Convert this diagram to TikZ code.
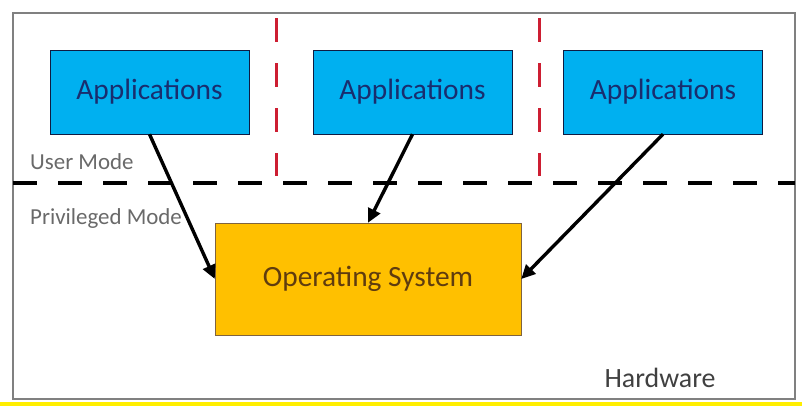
\documentclass[tikz,border=0pt]{standalone}
\usepackage{fontspec}
\setmainfont{Carlito}
\usetikzlibrary{positioning}
\usetikzlibrary{arrows.meta}
\definecolor{appblue}{RGB}{0,176,240}
\definecolor{apptext}{RGB}{25,45,110}
\definecolor{osorange}{RGB}{255,192,0}
\definecolor{ostext}{RGB}{95,60,15}
\definecolor{sepred}{RGB}{205,30,50}
\definecolor{stripe}{RGB}{255,238,0}
\definecolor{modegray}{RGB}{105,105,105}

\begin{document}
\begin{tikzpicture}[x=1bp, y=-1bp,
    app/.style={draw=apptext!60!black, fill=appblue, minimum width=199bp, minimum height=84bp,
        inner sep=0pt, text=apptext, font=\fontsize{29.5}{33}\selectfont},
    osbox/.style={draw=ostext!80, fill=osorange, minimum width=306bp, minimum height=112bp,
        inner sep=0pt, text=ostext, font=\fontsize{29.5}{33}\selectfont},
    modelabel/.style={anchor=west, inner sep=0pt, text=modegray, font=\fontsize{23}{26}\selectfont},
    call/.style={line width=3.4bp, -{Triangle[length=14bp, width=13bp]}}]
\useasboundingbox (0,0) rectangle (802,406);

% Hardware frame and the strip under it
\fill[stripe] (0,402) rectangle (802,406);
\draw[gray, line width=1.5bp] (13,13) rectangle (795,399);
\node[text=black!75, inner sep=0pt, font=\fontsize{28}{32}\selectfont] (hw) at (660,378) {Hardware};

% Separators between the applications
\foreach \xr in {276, 539} {
    \draw[sepred, line width=3bp, dash pattern=on 24bp off 21bp] (\xr,18) -- (\xr,176);
}

% User / privileged boundary
\coordinate (bl) at (13,183);
\coordinate (br) at (795,183);
\draw[black, line width=4bp, dash pattern=on 24bp off 21bp] (bl) -- (br);
\node[modelabel] (user) at (30,162) {User Mode};
\node[modelabel] (priv) at (30,219) {Privileged Mode};

% Applications and the kernel
\foreach \n/\xc in {1/149.5, 2/412.5, 3/663} {
    \node[app] (app\n) at (\xc,92) {Applications};
}
\node[osbox] (os) at (368,279) {Operating System};

% System calls
\draw[call] (app1.south) -- (os.west);
\draw[call] (app2.south) -- (os.north);
\draw[call] (app3.south) -- (os.east);
\end{tikzpicture}
\end{document}
